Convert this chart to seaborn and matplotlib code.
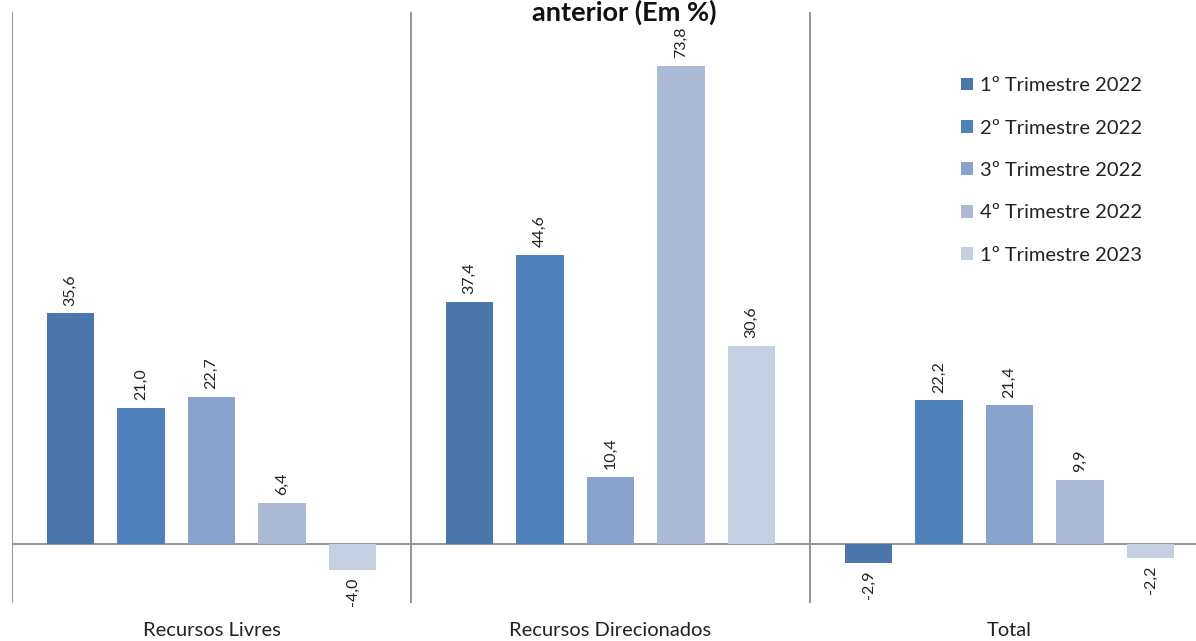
import matplotlib
matplotlib.use("Agg")
import matplotlib.pyplot as plt
import seaborn as sns
import pandas as pd
from matplotlib.patches import Patch

categories = ["Recursos Livres", "Recursos Direcionados", "Total"]
series = ["1º Trimestre 2022", "2º Trimestre 2022", "3º Trimestre 2022",
          "4º Trimestre 2022", "1º Trimestre 2023"]
values = {
    "1º Trimestre 2022": [35.6, 37.4, -2.9],
    "2º Trimestre 2022": [21.0, 44.6, 22.2],
    "3º Trimestre 2022": [22.7, 10.4, 21.4],
    "4º Trimestre 2022": [6.4, 73.8, 9.9],
    "1º Trimestre 2023": [-4.0, 30.6, -2.2],
}
colors = ["#4A76AC", "#4F81BD", "#88A3CB", "#ABBAD7", "#C4CFE2"]
title = "anterior (Em %)"

rows = []
for s in series:
    for c, v in zip(categories, values[s]):
        rows.append({"cat": c, "serie": s, "val": v})
df = pd.DataFrame(rows)

sns.set_theme(style="white")
plt.rcParams["font.family"] = ["Lato", "DejaVu Sans"]

W, H = 1196, 641
fig = plt.figure(figsize=(W / 100, H / 100), dpi=100)
ax = fig.add_axes([12 / W, (H - 603) / H, 1197 / W, 591 / H])

sns.barplot(data=df, x="cat", y="val", hue="serie", order=categories,
            hue_order=series, palette=colors, width=0.8835, gap=0.33,
            ax=ax, legend=False, saturation=1, errorbar=None,
            edgecolor="none")

ax.set_xlim(-0.5, 2.5)
ax.set_ylim(-9.1, 82.1)

for cont in ax.containers:
    labels = [f"{b.get_height():.1f}".replace(".", ",") for b in cont]
    ax.bar_label(cont, labels=labels, rotation=90, padding=5.5,
                 fontsize=11.5, color="#222222")

ax.axhline(0, color="#8c8c8c", lw=1.3, zorder=0)
for xv in [-0.5, 0.5, 1.5]:
    ax.axvline(xv, color="#8c8c8c", lw=1.3, zorder=0)

for sp in ax.spines.values():
    sp.set_visible(False)
ax.set_yticks([])
ax.set_xlabel("")
ax.set_ylabel("")
ax.tick_params(axis="x", length=0, pad=14, labelsize=14.5, labelcolor="#222222")

handles = [Patch(facecolor=c, edgecolor="none") for c in colors]
fig.legend(handles, series, loc="upper left",
           bbox_to_anchor=(943 / W, 1 - 59 / H), frameon=False,
           fontsize=14.5, handlelength=0.6, handleheight=0.6,
           handletextpad=0.35, labelspacing=1.26, labelcolor="#222222")

fig.text(624 / W, 1 - 12 / H, title, ha="center", va="center",
         fontsize=19.5, fontweight="bold", color="#111111")

fig.savefig("out.png", dpi=100)
